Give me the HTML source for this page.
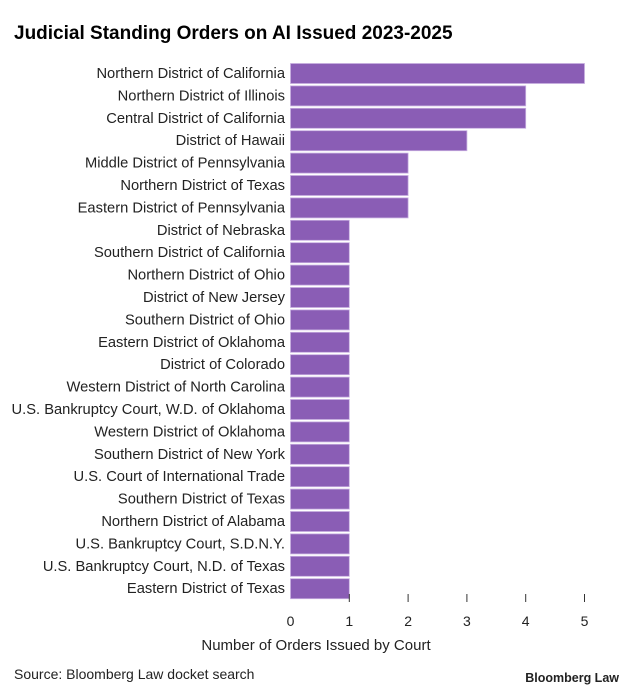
<!DOCTYPE html>
<html><head><style>
html,body{margin:0;padding:0;background:#fff;}
svg{display:block;font-family:"Liberation Sans",Arial,sans-serif;}
</style></head><body>
<svg width="633" height="695" viewBox="0 0 633 695" xmlns="http://www.w3.org/2000/svg">
<text x="14" y="39" font-size="19" font-weight="bold" fill="#000">Judicial Standing Orders on AI Issued 2023-2025</text>
<g font-size="14.7" fill="#222" text-anchor="end">
<text x="285" y="78">Northern District of California</text>
<text x="285" y="100.4">Northern District of Illinois</text>
<text x="285" y="122.8">Central District of California</text>
<text x="285" y="145.2">District of Hawaii</text>
<text x="285" y="167.6">Middle District of Pennsylvania</text>
<text x="285" y="190">Northern District of Texas</text>
<text x="285" y="212.4">Eastern District of Pennsylvania</text>
<text x="285" y="234.8">District of Nebraska</text>
<text x="285" y="257.2">Southern District of California</text>
<text x="285" y="279.6">Northern District of Ohio</text>
<text x="285" y="302">District of New Jersey</text>
<text x="285" y="324.4">Southern District of Ohio</text>
<text x="285" y="346.8">Eastern District of Oklahoma</text>
<text x="285" y="369.2">District of Colorado</text>
<text x="285" y="391.6">Western District of North Carolina</text>
<text x="285" y="414">U.S. Bankruptcy Court, W.D. of Oklahoma</text>
<text x="285" y="436.4">Western District of Oklahoma</text>
<text x="285" y="458.8">Southern District of New York</text>
<text x="285" y="481.2">U.S. Court of International Trade</text>
<text x="285" y="503.6">Southern District of Texas</text>
<text x="285" y="526">Northern District of Alabama</text>
<text x="285" y="548.4">U.S. Bankruptcy Court, S.D.N.Y.</text>
<text x="285" y="570.8">U.S. Bankruptcy Court, N.D. of Texas</text>
<text x="285" y="593.2">Eastern District of Texas</text>
</g>
<g fill="#8a5db5" stroke="#c7aee0" stroke-width="0.8">
<rect x="290.5" y="63.5" width="294" height="20"/>
<rect x="290.5" y="85.9" width="235.2" height="20"/>
<rect x="290.5" y="108.3" width="235.2" height="20"/>
<rect x="290.5" y="130.7" width="176.4" height="20"/>
<rect x="290.5" y="153.1" width="117.6" height="20"/>
<rect x="290.5" y="175.5" width="117.6" height="20"/>
<rect x="290.5" y="197.9" width="117.6" height="20"/>
<rect x="290.5" y="220.3" width="58.8" height="20"/>
<rect x="290.5" y="242.7" width="58.8" height="20"/>
<rect x="290.5" y="265.1" width="58.8" height="20"/>
<rect x="290.5" y="287.5" width="58.8" height="20"/>
<rect x="290.5" y="309.9" width="58.8" height="20"/>
<rect x="290.5" y="332.3" width="58.8" height="20"/>
<rect x="290.5" y="354.7" width="58.8" height="20"/>
<rect x="290.5" y="377.1" width="58.8" height="20"/>
<rect x="290.5" y="399.5" width="58.8" height="20"/>
<rect x="290.5" y="421.9" width="58.8" height="20"/>
<rect x="290.5" y="444.3" width="58.8" height="20"/>
<rect x="290.5" y="466.7" width="58.8" height="20"/>
<rect x="290.5" y="489.1" width="58.8" height="20"/>
<rect x="290.5" y="511.5" width="58.8" height="20"/>
<rect x="290.5" y="533.9" width="58.8" height="20"/>
<rect x="290.5" y="556.3" width="58.8" height="20"/>
<rect x="290.5" y="578.7" width="58.8" height="20"/>
</g>
<g stroke="#333" stroke-width="1">
<line x1="349.3" y1="594" x2="349.3" y2="602"/>
<line x1="408.1" y1="594" x2="408.1" y2="602"/>
<line x1="466.9" y1="594" x2="466.9" y2="602"/>
<line x1="525.7" y1="594" x2="525.7" y2="602"/>
<line x1="584.5" y1="594" x2="584.5" y2="602"/>
</g>
<g font-size="14" fill="#222" text-anchor="middle">
<text x="290.5" y="626">0</text>
<text x="349.3" y="626">1</text>
<text x="408.1" y="626">2</text>
<text x="466.9" y="626">3</text>
<text x="525.7" y="626">4</text>
<text x="584.5" y="626">5</text>
<text x="316" y="650" font-size="15">Number of Orders Issued by Court</text>
</g>
<text x="14" y="679" font-size="14" fill="#222">Source: Bloomberg Law docket search</text>
<text x="619" y="682" font-size="12.5" font-weight="bold" fill="#222" text-anchor="end">Bloomberg Law</text>
</svg>
</body></html>
